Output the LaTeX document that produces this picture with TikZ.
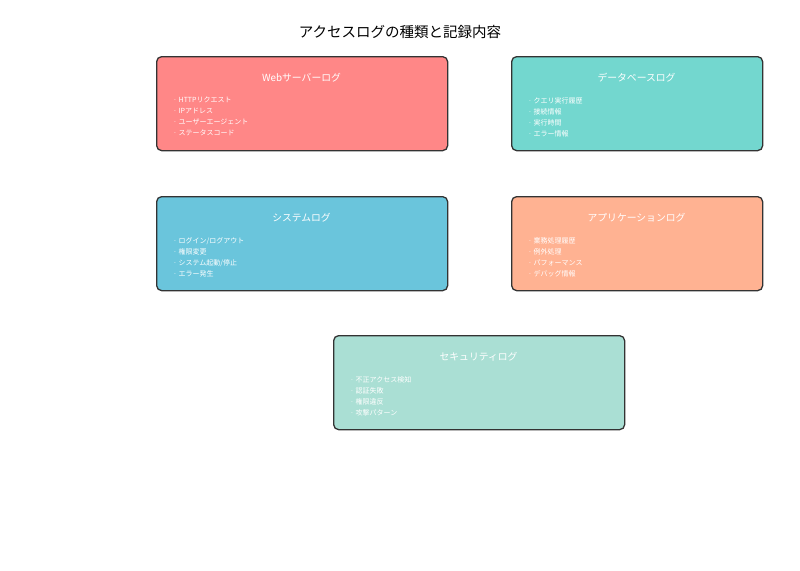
\documentclass[tikz,border=0pt]{standalone}
\usepackage{fontspec}
\setmainfont{Noto Sans CJK JP}
\definecolor{cweb}{HTML}{FF8787}
\definecolor{cdb}{HTML}{73D7CF}
\definecolor{csys}{HTML}{6AC5DC}
\definecolor{capp}{HTML}{FFB292}
\definecolor{csec}{HTML}{AADFD4}
\definecolor{cborder}{HTML}{333333}
\tikzset{
  logbox/.style={draw=cborder, line width=1.3pt, rounded corners=5pt, minimum width=#1, minimum height=94pt, inner sep=0pt},
  boxtitle/.style={text=white, font=\fontsize{9.8}{11}\selectfont, inner sep=0pt},
  boxitems/.style={text=white, font=\fontsize{7}{11}\selectfont, align=left, anchor=north west, inner sep=0pt},
  maintitle/.style={text=black, font=\fontsize{14.5}{16}\selectfont, inner sep=0pt}
}
\begin{document}
\begin{tikzpicture}[x=1pt,y=-1pt]
\useasboundingbox (0,0) rectangle (800,570);
\node[maintitle] (title) at (400,32) {アクセスログの種類と記録内容};

\node[logbox=291pt, fill=cweb, anchor=north west] (web) at (156,56) {};
\node[boxtitle] (webt) at (301.5,77.5) {Webサーバーログ};
\node[boxitems] (webi) at (173,97) {· HTTPリクエスト\\· IPアドレス\\· ユーザーエージェント\\· ステータスコード};

\node[logbox=251pt, fill=cdb, anchor=north west] (db) at (511,56) {};
\node[boxtitle] (dbt) at (636.5,77.5) {データベースログ};
\node[boxitems] (dbi) at (528,97) {· クエリ実行履歴\\· 接続情報\\· 実行時間\\· エラー情報};

\node[logbox=291pt, fill=csys, anchor=north west] (sys) at (156,196) {};
\node[boxtitle] (syst) at (301.5,217.5) {システムログ};
\node[boxitems] (sysi) at (173,237) {· ログイン/ログアウト\\· 権限変更\\· システム起動/停止\\· エラー発生};

\node[logbox=251pt, fill=capp, anchor=north west] (app) at (511,196) {};
\node[boxtitle] (appt) at (636.5,217.5) {アプリケーションログ};
\node[boxitems] (appi) at (528,237) {· 業務処理履歴\\· 例外処理\\· パフォーマンス\\· デバッグ情報};

\node[logbox=291pt, fill=csec, anchor=north west] (sec) at (333,335) {};
\node[boxtitle] (sect) at (478.5,356.5) {セキュリティログ};
\node[boxitems] (seci) at (350,376) {· 不正アクセス検知\\· 認証失敗\\· 権限違反\\· 攻撃パターン};
\end{tikzpicture}
\end{document}
